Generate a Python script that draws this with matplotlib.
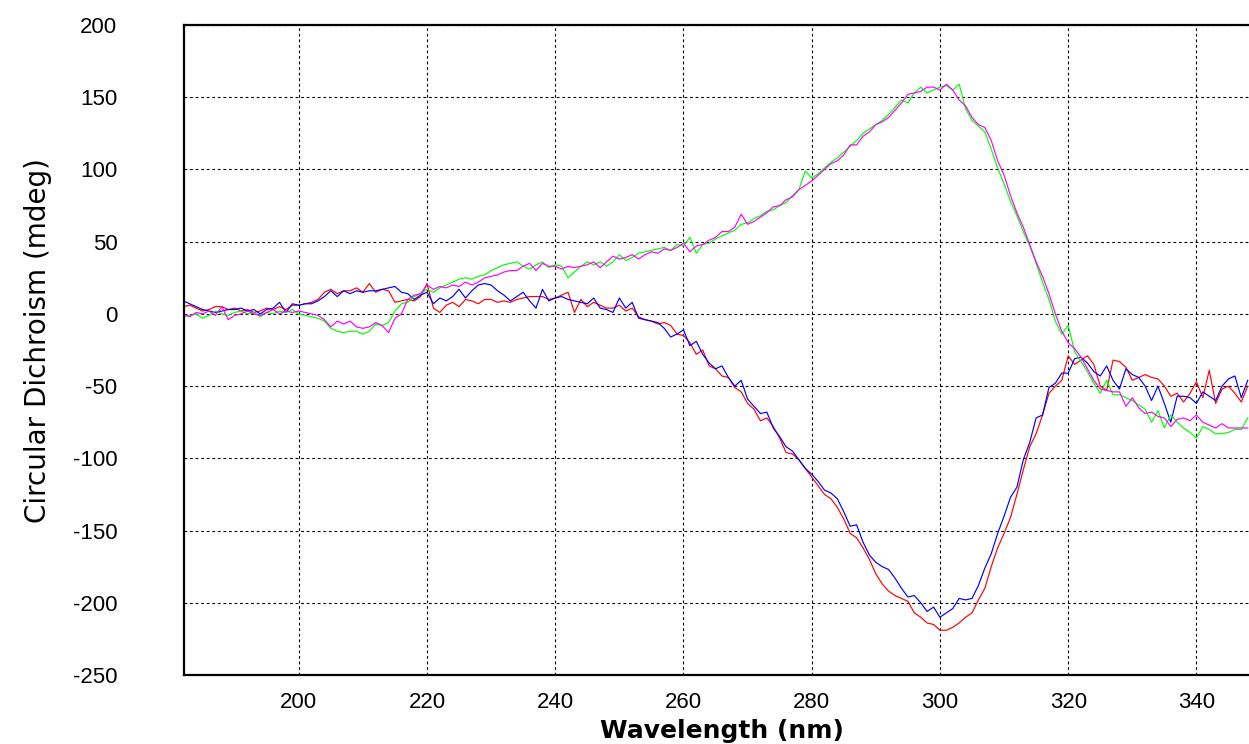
import numpy as np
import matplotlib.pyplot as plt

# Wavelength axis (nm), one point per nm
longueurs = np.arange(182, 349)

# Red spectrum
cd_rouge = [
    5, 6, 4, 2, 3, 5, 5, 3, 4, 2,
    3, 1, 2, 4, 3, 5, 3, 6, 6, 7,
    8, 10, 15, 17, 14, 16, 16, 18, 15, 21,
    15, 17, 16, 8, 9, 10, 9, 12, 21, 4,
    1, 6, 8, 5, 10, 9, 7, 10, 10, 8,
    9, 8, 10, 11, 12, 12, 12, 10, 11, 13,
    15, 1, 10, 5, 8, 6, 4, 4, 6, 2,
    4, -2, -4, -5, -7, -6, -8, -14, -15, -20,
    -28, -25, -36, -38, -43, -44, -51, -54, -62, -66,
    -74, -72, -78, -86, -96, -97, -101, -107, -113, -119,
    -125, -128, -134, -142, -152, -155, -162, -170, -180, -187,
    -192, -195, -197, -199, -207, -210, -214, -215, -219, -219,
    -217, -214, -210, -207, -198, -190, -175, -162, -152, -141,
    -125, -108, -92, -83, -70, -55, -50, -46, -29, -35,
    -32, -29, -35, -50, -53, -32, -33, -37, -46, -44,
    -42, -44, -45, -50, -57, -55, -61, -55, -47, -58,
    -39, -62, -52, -50, -55, -61, -50,
]

# Blue spectrum
cd_bleu = [
    9, 7, 5, 3, 2, 1, 2, 3, 3, 4,
    2, 3, 0, 3, 4, 8, 1, 7, 6, 7,
    7, 9, 12, 16, 12, 16, 14, 16, 15, 16,
    16, 17, 18, 19, 15, 14, 10, 13, 15, 7,
    11, 9, 12, 17, 11, 16, 20, 21, 20, 16,
    13, 9, 12, 15, 9, 4, 17, 9, 11, 12,
    10, 9, 8, 7, 11, 4, 3, 1, 11, 4,
    8, -3, -4, -5, -6, -10, -16, -14, -11, -22,
    -19, -28, -34, -38, -36, -44, -50, -46, -59, -64,
    -69, -68, -79, -85, -92, -95, -101, -107, -111, -116,
    -122, -124, -128, -137, -147, -146, -158, -167, -172, -175,
    -177, -183, -190, -196, -195, -200, -206, -203, -210, -207,
    -204, -197, -198, -197, -188, -176, -166, -152, -140, -127,
    -120, -101, -89, -72, -70, -51, -48, -41, -41, -31,
    -30, -34, -40, -43, -36, -46, -52, -38, -42, -44,
    -50, -60, -50, -62, -75, -57, -57, -58, -62, -54,
    -57, -60, -50, -45, -43, -58, -46,
]

# Green spectrum
cd_vert = [
    -2, -1, 0, -3, -1, 2, 0, -1, 1, 2,
    0, 1, -2, 1, 0, 2, 1, 3, 0, -1,
    -2, -3, -5, -10, -12, -13, -12, -12, -14, -12,
    -7, -8, -6, 2, 7, 8, 12, 14, 17, 15,
    18, 20, 22, 24, 25, 24, 26, 27, 30, 32,
    34, 35, 36, 33, 31, 34, 36, 32, 34, 33,
    25, 29, 33, 36, 34, 36, 33, 36, 41, 37,
    39, 42, 43, 44, 45, 46, 44, 48, 47, 53,
    42, 48, 49, 52, 54, 56, 58, 62, 63, 66,
    68, 71, 72, 75, 77, 82, 86, 99, 94, 97,
    101, 105, 108, 112, 116, 120, 125, 128, 131, 134,
    138, 143, 148, 146, 153, 157, 153, 155, 157, 158,
    155, 159, 142, 134, 130, 126, 114, 101, 90, 78,
    68, 57, 47, 35, 22, 10, -5, -14, -8, -26,
    -33, -40, -48, -55, -46, -56, -56, -58, -60, -63,
    -66, -75, -67, -79, -70, -75, -79, -82, -86, -78,
    -80, -83, -83, -82, -80, -80, -72,
]

# Magenta spectrum
cd_magenta = [
    0, -2, 1, 0, 2, -1, 5, -4, -1, 0,
    2, 0, -1, 1, 3, 0, 2, 1, 2, 1,
    0, -1, -4, -9, -5, -7, -5, -9, -10, -9,
    -6, -8, -13, -3, 0, 10, 13, 14, 20, 17,
    19, 18, 20, 19, 22, 20, 22, 25, 26, 27,
    29, 30, 30, 33, 35, 30, 35, 33, 33, 31,
    33, 32, 33, 34, 36, 32, 36, 40, 38, 39,
    41, 38, 41, 43, 42, 45, 44, 46, 49, 43,
    47, 48, 51, 53, 57, 57, 60, 69, 62, 64,
    67, 70, 74, 75, 79, 81, 86, 89, 92, 96,
    100, 104, 106, 110, 117, 117, 123, 126, 131, 133,
    136, 141, 146, 152, 153, 154, 157, 157, 155, 159,
    155, 148, 144, 136, 131, 129, 120, 106, 96, 82,
    70, 60, 48, 36, 26, 14, 0, -12, -20, -24,
    -30, -38, -46, -52, -53, -54, -54, -64, -58, -65,
    -69, -68, -71, -72, -78, -73, -72, -74, -70, -75,
    -77, -79, -76, -79, -79, -79, -79,
]

# Ticks
x_ticks = [200, 220, 240, 260, 280, 300, 320, 340]
y_ticks = [-250, -200, -150, -100, -50, 0, 50, 100, 150, 200]

plt.rcParams['font.family'] = ['Liberation Sans', 'DejaVu Sans']
plt.rcParams['axes.unicode_minus'] = False

fig = plt.figure(figsize=(12.49, 7.44), dpi=100)
ax = fig.add_axes([184 / 1249, 69 / 744, 1 - 184 / 1249, 650 / 744])

# Curves
ax.plot(longueurs, cd_rouge, color=(1, 0, 0), lw=0.85)
ax.plot(longueurs, cd_bleu, color=(0, 0, 1), lw=0.85)
ax.plot(longueurs, cd_vert, color=(0, 1, 0), lw=0.85)
ax.plot(longueurs, cd_magenta, color=(1, 0, 1), lw=0.85)

ax.set_xlim(182.1, 348.2)
ax.set_ylim(-250, 200)
ax.set_xticks(x_ticks)
ax.set_yticks(y_ticks)
ax.tick_params(length=0, labelsize=16, pad=12)
ax.tick_params(axis='y', pad=48)

# Dashed grid
ax.grid(True, color='black', lw=0.8, linestyle=(0, (2.5, 2.5)))
ax.set_axisbelow(True)

for cote in ['left', 'top', 'bottom']:
    ax.spines[cote].set_linewidth(1.6)
ax.spines['right'].set_visible(False)

ax.set_xlabel('Wavelength (nm)', fontsize=18, fontweight='bold',
              family=['DejaVu Sans'])
ax.xaxis.set_label_coords(0.505, -0.1045)
ax.xaxis.label.set_va('bottom')
ax.set_ylabel('Circular Dichroism (mdeg)', fontsize=20,
              family=['DejaVu Sans'])
ax.yaxis.set_label_coords(-0.124, 0.515)

fig.savefig('out.png', dpi=100)
